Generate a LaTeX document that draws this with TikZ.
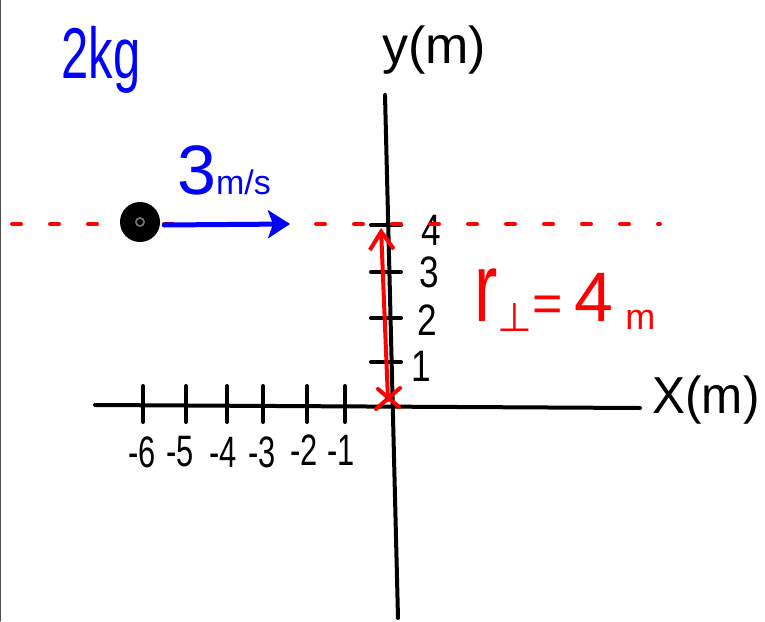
\documentclass[tikz,border=0pt]{standalone}
\usepackage{fontspec}
\setmainfont{Liberation Sans}
\newfontfamily\dejavu{DejaVu Sans}
\usetikzlibrary{arrows.meta}
\definecolor{hblue}{RGB}{0,0,255}
\definecolor{hred}{RGB}{255,0,0}
\newcommand{\narrow}[2]{\scalebox{#1}[1]{#2}}
\begin{document}
\begin{tikzpicture}[x=1pt,y=-1pt,line cap=round,line join=round,
  axis/.style={line width=4pt,black},
  tick/.style={line width=4pt,black},
  lbl/.style={inner sep=0pt,font=\fontsize{44}{44}\selectfont},
  big/.style={inner sep=0pt,font=\fontsize{52}{52}\selectfont}]
\useasboundingbox (0,0) rectangle (765,621);
\fill[white] (0,0) rectangle (765,621);
\draw[line width=1.2pt,black!70] (0.6,0) -- (0.6,621);
% axes
\coordinate (ytop) at (385,95);
\coordinate (ybot) at (398,618);
\coordinate (xl) at (95,405);
\coordinate (xr) at (640,408);
\draw[axis] (ytop) -- (ybot);
\draw[axis] (xl) -- (xr);
% x ticks
\foreach \x in {143,186,227,263,307,345} \draw[tick] (\x,386) -- (\x,422);
\node[lbl] (xm6) at (142,452) {\narrow{0.7}{-6}};
\node[lbl] (xm5) at (180,452) {\narrow{0.7}{-5}};
\node[lbl] (xm4) at (223,452) {\narrow{0.7}{-4}};
\node[lbl] (xm3) at (262,452) {\narrow{0.7}{-3}};
\node[lbl] (xm2) at (304,450) {\narrow{0.7}{-2}};
\node[lbl] (xm1) at (341,450) {\narrow{0.7}{-1}};
% y ticks
\foreach \y in {225,272,318,362} \draw[tick] (371,\y) -- (401,\y);
\node[lbl] (y4) at (431,230) {\narrow{0.8}{4}};
\node[lbl] (y3) at (429,272) {\narrow{0.8}{3}};
\node[lbl] (y2) at (427,320) {\narrow{0.8}{2}};
\node[lbl] (y1) at (421,366) {\narrow{0.8}{1}};
% axis labels
\node[big] (ylab) at (434,50) {y(m)};
\node[big] (xlab) at (706,400) {\narrow{0.95}{X(m)}};
% red dotted line
\draw[hred,line width=4pt,dash pattern=on 9pt off 29pt] (12,224) -- (660,224);
% ball
\node[circle,fill=black,minimum size=40pt,inner sep=0pt] (ball) at (140,222) {};
\fill[black!55] (140,222) circle (5pt);
\fill[black] (140,222) circle (3pt);
% velocity arrow
\coordinate (vend) at (290,224);
\draw[hblue,line width=5pt,-{Stealth[length=22pt,width=28pt,inset=5pt]}] (ball.east) ++(4,3) -- (vend);
\node[inner sep=0pt,text=hblue] (vlab) at (224,170) {\fontsize{70}{70}\selectfont 3\fontsize{34}{34}\selectfont m/s};
\node[inner sep=0pt,text=hblue,font=\fontsize{72}{72}\selectfont] (mass) at (101,60) {\narrow{0.68}{2kg}};
% r perp
\coordinate (org) at (388,400);
\coordinate (rtop) at (381,228);
\draw[hred,line width=4pt,-{Straight Barb[length=18pt,width=24pt,line width=4pt]}] (org) -- (rtop);
\draw[hred,line width=4pt] (376,409) -- (400,388) (378,389) -- (399,407);
\node[inner sep=0pt,text=hred] (rlab) at (565,300) {\fontsize{70}{70}\selectfont\scalebox{1}[1.4]{r}\raisebox{-10pt}{\fontsize{40}{40}\selectfont\dejavu ⊥}{\fontsize{52}{52}\selectfont=}\,4\,\raisebox{-8pt}{\fontsize{36}{36}\selectfont m}};
\end{tikzpicture}
\end{document}
